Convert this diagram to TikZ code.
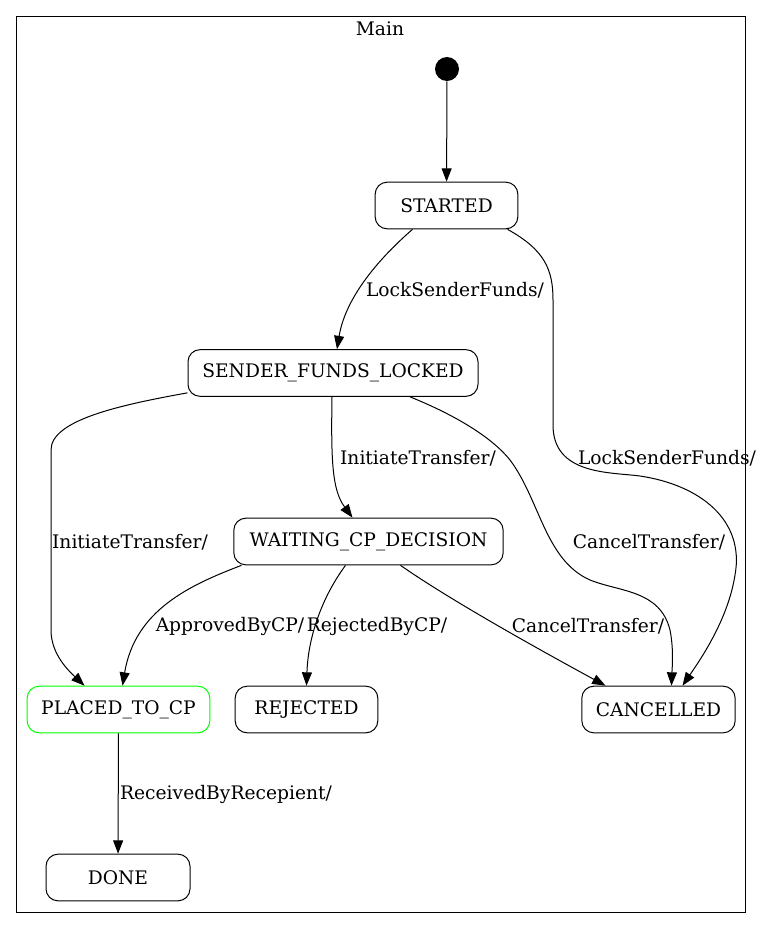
\documentclass[tikz,border=0pt]{standalone}
\usepackage{fontspec}
\setmainfont{DejaVu Serif}
\usetikzlibrary{arrows.meta,calc}
\begin{document}
\begin{tikzpicture}[x=0.75pt,y=-0.75pt,
  every node/.style={font=\fontsize{14}{16}\selectfont},
  state/.style={draw,rounded corners=9pt,line width=0.75pt,minimum height=35pt,inner sep=0pt},
  lbl/.style={inner sep=0pt,anchor=center},
  tr/.style={line width=0.75pt,-{Triangle[length=10pt,width=7.5pt]}}]
\useasboundingbox (0,0) rectangle (767,929);
\node[draw,line width=0.75pt,minimum width=546.75pt,minimum height=672pt,inner sep=0pt] (main) at (380.5,464) {};
\node[lbl] (mainlbl) at (380,29) {Main};
\node[circle,fill=black,minimum size=18pt,inner sep=0pt] (init) at (447,69) {};
\node[state,minimum width=107pt] (st) at (446.5,205.5) {STARTED};
\node[state,minimum width=217.5pt] (sfl) at (333,373) {SENDER\_FUNDS\_LOCKED};
\node[state,minimum width=202pt] (wcp) at (368.5,541.5) {WAITING\_CP\_DECISION};
\node[state,draw=green,minimum width=137pt] (ptc) at (118.5,709.5) {PLACED\_TO\_CP};
\node[state,minimum width=107pt] (rej) at (306.5,709.5) {REJECTED};
\node[state,minimum width=115pt] (can) at (658.5,709.5) {CANCELLED};
\node[state,minimum width=108pt] (done) at (118,877.5) {DONE};

\draw[tr] (init) -- (st);
\draw[tr] ($(st.south)+(-34,0)$) .. controls (375,262) and (345,300) .. ($(sfl.north)+(4,0)$);
\node[lbl] (l1) at (455,290) {LockSenderFunds/};
\draw[tr] ($(st.south)+(61,0)$) .. controls (545,250) and (553,270) .. (553,300) -- (553,425)
  .. controls (553,475) and (610,472) .. (640,476)
  .. controls (700,485) and (745,520) .. (735,575)
  .. controls (728,620) and (700,660) .. ($(can.north)+(24,0)$);
\node[lbl] (l2) at (667,458) {LockSenderFunds/};
\draw[tr] ($(sfl.south)+(77,0)$) .. controls (450,413) and (490,435) .. (510,460)
  .. controls (540,500) and (545,560) .. (590,580)
  .. controls (620,592) and (660,590) .. (670,630)
  .. controls (674,650) and (672,670) .. ($(can.north)+(13,0)$);
\node[lbl] (l3) at (649,542) {CancelTransfer/};
\draw[tr] ($(sfl.south west)+(0,-4)$) .. controls (120,405) and (51,420) .. (51,450) -- (51,630)
  .. controls (51,655) and (70,672) .. ($(ptc.north)+(-34,0)$);
\node[lbl] (l4) at (130,542) {InitiateTransfer/};
\draw[tr] ($(sfl.south)+(-1,0)$) .. controls (331,460) and (332,490) .. ($(wcp.north)+(-16,0)$);
\node[lbl] (l5) at (418,458) {InitiateTransfer/};
\draw[tr] ($(wcp.south)+(-127,0)$) .. controls (190,585) and (135,610) .. ($(ptc.north)+(4,0)$);
\node[lbl] (l6) at (230,626) {ApprovedByCP/};
\draw[tr] ($(wcp.south)+(-23,0)$) .. controls (320,600) and (308,640) .. ($(rej.north)+(0,0)$);
\node[lbl] (l7) at (377,626) {RejectedByCP/};
\draw[tr] ($(wcp.south)+(32,0)$) .. controls (450,600) and (540,650) .. ($(can.north)+(-53,0)$);
\node[lbl] (l8) at (588,626) {CancelTransfer/};
\draw[tr] (ptc) -- (done);
\node[lbl] (l9) at (226,794) {ReceivedByRecepient/};
\end{tikzpicture}
\end{document}
